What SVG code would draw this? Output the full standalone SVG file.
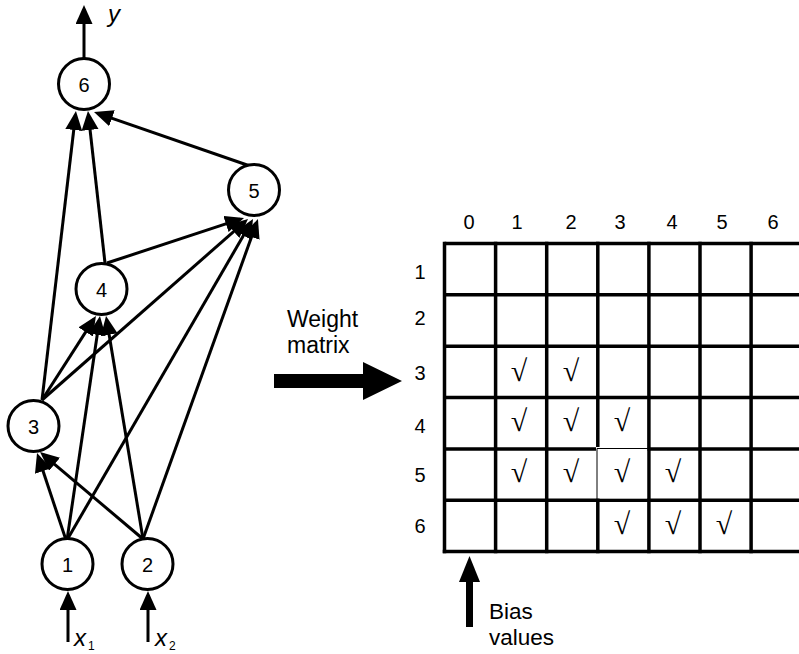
<svg xmlns="http://www.w3.org/2000/svg" width="799" height="654" viewBox="0 0 799 654">
<defs>
<marker id="ah" markerUnits="userSpaceOnUse" markerWidth="20" markerHeight="18" refX="15" refY="8.5" orient="auto">
<path d="M0,0 L19,8.5 L0,17 z" fill="#000"/>
</marker>
<style>
.node circle{fill:#fff;stroke:#000;stroke-width:3}
.lbl{font-family:"Liberation Sans",Arial,sans-serif;font-size:20px;fill:#000}
.txt{font-family:"Liberation Sans",Arial,sans-serif;font-size:23px;fill:#000}
.it{font-family:"Liberation Sans",Arial,sans-serif;font-style:italic;font-size:24px;fill:#000}
.sub{font-family:"Liberation Sans",Arial,sans-serif;font-size:12px;fill:#000}
.edges line{stroke:#000;stroke-width:3;marker-end:url(#ah)}
.grid line{stroke:#000;stroke-width:3.5}
.ck{font-family:"Liberation Serif","DejaVu Serif",serif;font-size:30px;fill:#000;text-anchor:middle}
</style>
</defs>
<rect width="799" height="654" fill="#fff"/>
<g class="edges" id="connectors">
<line x1="42" y1="400" x2="75.5" y2="115"/>
<line x1="105" y1="263" x2="88.4" y2="115"/>
<line x1="250" y1="166" x2="97.8" y2="113.3"/>
<line x1="107" y1="263" x2="240.2" y2="219.2"/>
<line x1="42" y1="400" x2="245" y2="221.6"/>
<line x1="67" y1="540" x2="251" y2="222.5"/>
<line x1="143" y1="539" x2="256.6" y2="222.8"/>
<line x1="42" y1="400" x2="93.8" y2="319.4"/>
<line x1="67" y1="540" x2="99.4" y2="320"/>
<line x1="143" y1="539" x2="106.7" y2="319.9"/>
<line x1="66" y1="540" x2="38.3" y2="456.8"/>
<line x1="143" y1="539" x2="43.1" y2="454.6"/>
<line x1="84" y1="58" x2="84" y2="9"/>
<line x1="68" y1="642" x2="68" y2="595"/>
<line x1="148" y1="642" x2="148" y2="595"/>
</g>
<g class="node" id="n6"><circle cx="84" cy="84" r="25.5"/><text class="lbl" x="84" y="92" text-anchor="middle">6</text></g>
<g class="node" id="n5"><circle cx="254" cy="190" r="25.5"/><text class="lbl" x="254" y="198" text-anchor="middle">5</text></g>
<g class="node" id="n4"><circle cx="101.5" cy="289" r="25.5"/><text class="lbl" x="101.5" y="297" text-anchor="middle">4</text></g>
<g class="node" id="n3"><circle cx="33.5" cy="426" r="25.5"/><text class="lbl" x="33.5" y="434" text-anchor="middle">3</text></g>
<g class="node" id="n1"><circle cx="67.5" cy="564" r="25.5"/><text class="lbl" x="67.5" y="572" text-anchor="middle">1</text></g>
<g class="node" id="n2"><circle cx="147.5" cy="564" r="25.5"/><text class="lbl" x="147.5" y="572" text-anchor="middle">2</text></g>
<text class="it" x="108" y="22">y</text>
<text class="it" x="74" y="646">x</text><text class="sub" x="88" y="650">1</text>
<text class="it" x="155" y="646">x</text><text class="sub" x="169" y="650">2</text>
<g id="weight-arrow">
<text class="txt" x="287" y="327">Weight</text>
<text class="txt" x="287" y="353">matrix</text>
<polygon points="274,374 363,374 363,362 402,381 363,400 363,388 274,388" fill="#000"/>
</g>
<g id="matrix">
<g class="grid">
<line x1="444.5" y1="243.5" x2="799" y2="243.5"/>
<line x1="444.5" y1="294.85" x2="799" y2="294.85"/>
<line x1="444.5" y1="346.2" x2="799" y2="346.2"/>
<line x1="444.5" y1="397.55" x2="799" y2="397.55"/>
<line x1="444.5" y1="448.9" x2="799" y2="448.9"/>
<line x1="444.5" y1="500.25" x2="799" y2="500.25"/>
<line x1="442.75" y1="551.6" x2="799" y2="551.6"/>
<line x1="444.5" y1="241.75" x2="444.5" y2="553.35"/>
<line x1="495.6" y1="241.75" x2="495.6" y2="553.35"/>
<line x1="546.7" y1="241.75" x2="546.7" y2="553.35"/>
<line x1="597.8" y1="241.75" x2="597.8" y2="553.35"/>
<line x1="648.9" y1="241.75" x2="648.9" y2="553.35"/>
<line x1="700" y1="241.75" x2="700" y2="553.35"/>
<line x1="751.1" y1="241.75" x2="751.1" y2="553.35"/>
</g>
<rect x="596" y="447" width="51.1" height="51.4" fill="#fff"/>
<line x1="597" y1="448.5" x2="648" y2="448.5" stroke="#000" stroke-width="1"/>
<line x1="597" y1="448.5" x2="597" y2="499" stroke="#000" stroke-width="1"/>
<g class="lbl" text-anchor="middle">
<text x="469" y="229">0</text><text x="517" y="229">1</text><text x="571" y="229">2</text><text x="620" y="229">3</text><text x="672" y="229">4</text><text x="722" y="229">5</text><text x="773" y="229">6</text>
<text x="420" y="279">1</text><text x="420" y="325">2</text><text x="420" y="380">3</text><text x="420" y="433">4</text><text x="420" y="482">5</text><text x="420" y="533">6</text>
</g>
<g>
<text class="ck" x="519" y="381">√</text><text class="ck" x="571" y="381">√</text>
<text class="ck" x="519" y="431">√</text><text class="ck" x="571" y="431">√</text><text class="ck" x="622" y="431">√</text>
<text class="ck" x="519" y="482">√</text><text class="ck" x="571" y="482">√</text><text class="ck" x="622" y="482">√</text><text class="ck" x="673" y="482">√</text>
<text class="ck" x="622" y="534">√</text><text class="ck" x="673" y="534">√</text><text class="ck" x="724" y="534">√</text>
</g>
</g>
<g id="bias">
<rect x="466" y="580" width="7" height="47" fill="#000"/>
<polygon points="459,582 469.5,556 480,582" fill="#000"/>
<text class="txt" x="489" y="619" style="font-size:22.5px">Bias</text>
<text class="txt" x="489" y="645" style="font-size:22.5px">values</text>
</g>
</svg>
